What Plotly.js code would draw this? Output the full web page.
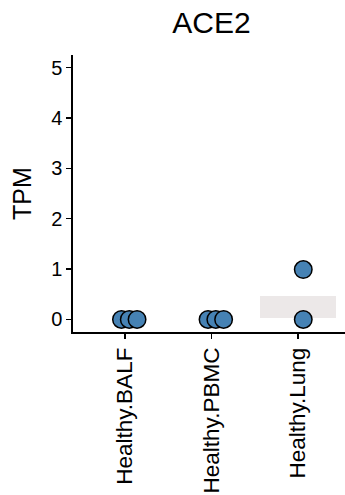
<!DOCTYPE html>
<html>
<head>
<meta charset="utf-8">
<script src="https://cdn.plot.ly/plotly-3.0.1.min.js"></script>
<style>
  html, body { margin: 0; padding: 0; overflow: hidden; background: #fff; }
  #chart { width: 350px; height: 495px; }
</style>
</head>
<body>
<div id="chart"></div>
<script>
// Categories (x axis)
const categories = ['Healthy.BALF', 'Healthy.PBMC', 'Healthy.Lung'];
const catPositions = [1, 2, 3];

// Points: category index, TPM value, horizontal offset
const pointCategory = [0, 0, 0, 1, 1, 1, 2, 2];
const pointTPM      = [0, 0, 0, 0, 0, 0, 0, 0.99];
const pointOffset   = [-0.04, 0.05, 0.14, -0.04, 0.05, 0.14, 0.06, 0.06];

// Shaded box behind Healthy.Lung
const boxCategory = [2];
const boxLow  = [0.03];
const boxHigh = [0.46];

// Y ticks
const yTicks = [0, 1, 2, 3, 4, 5];

const FONT = 'Liberation Sans, Arial, Helvetica, sans-serif';

const boxTrace = {
  type: 'bar',
  x: boxCategory.map(i => catPositions[i]),
  base: boxLow,
  y: boxHigh.map((h, i) => h - boxLow[i]),
  width: 0.87,
  marker: { color: 'rgb(236,232,232)', line: { width: 0 } },
  hoverinfo: 'skip',
  showlegend: false
};

const pointTrace = {
  type: 'scatter',
  mode: 'markers',
  x: pointCategory.map((c, i) => catPositions[c] + pointOffset[i]),
  y: pointTPM,
  marker: { size: 17.5, color: '#4682B4', line: { color: '#000', width: 1.5 } },
  cliponaxis: false,
  showlegend: false
};

const layout = {
  width: 350,
  height: 495,
  margin: { l: 73, r: 0, t: 55, b: 163 },
  paper_bgcolor: '#fff',
  plot_bgcolor: '#fff',
  font: { family: FONT, color: '#000' },
  title: {
    text: 'ACE2',
    font: { family: FONT, size: 30, color: '#000' },
    x: 0.5, xref: 'paper',
    y: 1 - 22 / 495, yref: 'container', yanchor: 'middle'
  },
  xaxis: {
    range: [0.4, 3.6],
    tickvals: catPositions,
    ticktext: categories,
    tickangle: -90,
    tickfont: { family: FONT, size: 22.5, color: '#000' },
    ticks: 'outside', ticklen: 5, tickwidth: 1.2, tickcolor: '#000',
    showline: true, linecolor: '#000', linewidth: 1.6,
    showgrid: false, zeroline: false, automargin: false
  },
  yaxis: {
    range: [-0.25, 5.25],
    tickvals: yTicks,
    ticktext: yTicks.map(String),
    tickfont: { family: FONT, size: 20, color: '#000' },
    ticks: 'outside', ticklen: 5, tickwidth: 1.2, tickcolor: '#000',
    showline: true, linecolor: '#000', linewidth: 1.6,
    showgrid: false, zeroline: false, automargin: false,
    title: { text: 'TPM', font: { family: FONT, size: 25, color: '#000' }, standoff: 12 }
  },
  bargap: 0
};

Plotly.newPlot('chart', [boxTrace, pointTrace], layout, { staticPlot: true, displayModeBar: false });
</script>
</body>
</html>
